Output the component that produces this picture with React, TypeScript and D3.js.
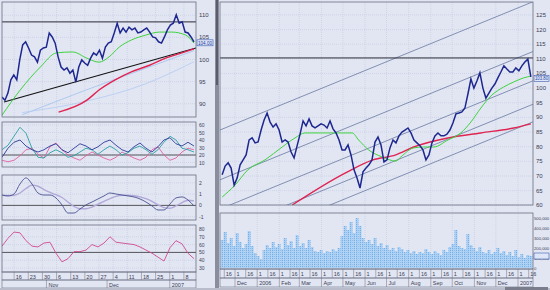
import React from "react";
import * as d3 from "d3";

// ---------------- data ----------------
// Left (daily, Oct 2006 - Jan 2007)
const leftPrice = [91.5, 90.8, 92.4, 95.4, 96.5, 95.4, 99.9, 103.3, 104.0, 102.6, 101.0, 100.6, 99.4, 102.1, 102.6, 102.8, 106.0, 105.1, 103.7, 100.6, 98.3, 97.6, 98.1, 96.9, 97.6, 94.9, 98.3, 99.9, 99.2, 98.7, 100.3, 101.5, 101.0, 102.1, 100.3, 102.8, 103.7, 104.0, 106.0, 108.2, 106.0, 107.1, 106.2, 107.3, 106.7, 107.1, 106.0, 106.2, 106.7, 107.1, 106.2, 105.1, 104.9, 104.0, 103.7, 105.1, 106.7, 107.8, 108.2, 110.1, 108.2, 108.5, 106.2, 106.0, 105.1, 104.0];
const leftStartDate = "2006-10-10";
const leftEndDate = "2007-01-13";
const leftMAshortDates = ["2006-10-10", "2006-10-19", "2006-10-29", "2006-11-06", "2006-11-14", "2006-11-21", "2006-11-27", "2006-12-02", "2006-12-07", "2006-12-13", "2006-12-20", "2006-12-27", "2007-01-02", "2007-01-09", "2007-01-13"];
const leftMAshort = [87.4, 93.1, 98.3, 101.5, 101.7, 100.3, 99.4, 100.6, 102.8, 104.4, 105.5, 106.2, 106.2, 105.5, 103.7];
const leftMAlongDates = ["2006-11-07", "2006-11-21", "2006-11-27", "2006-12-05", "2006-12-13", "2006-12-22", "2006-12-30", "2007-01-07", "2007-01-13"];
const leftMAlong = [88.1, 90.8, 93.1, 95.4, 97.2, 98.7, 100.3, 101.5, 102.4];
const leftFaintDates = ["2006-10-20", "2006-11-20", "2006-12-20", "2007-01-13"];
const leftFaintA = [87.5, 93.0, 98.0, 102.0];
const leftFaintB = [88.0, 90.5, 94.5, 99.5];
const leftTrendDates = ["2006-10-11", "2007-01-14"];
const leftTrend = [90.4, 102.6];
const leftResistance = 108.5;
const leftPriceTicks = [90, 95, 100, 105, 110];

const dmiTeal = [27, 33, 45, 57, 49, 29, 17, 16, 23, 27, 23, 17, 19, 24, 29, 27, 21, 27, 32, 27, 20, 23, 29, 32, 27, 21, 27, 37, 45, 40, 29, 27, 24];
const dmiBlue = [17, 29, 37, 40, 32, 27, 24, 27, 32, 35, 27, 23, 29, 35, 32, 27, 31, 37, 40, 33, 27, 24, 31, 36, 29, 24, 31, 40, 43, 35, 32, 37, 32];
const dmiPink = [13, 11, 13, 19, 27, 29, 21, 16, 31, 36, 27, 20, 16, 13, 19, 24, 20, 16, 13, 17, 24, 20, 16, 13, 17, 27, 31, 20, 13, 16, 24, 29, 27];
const dmiTicks = [10, 20, 30, 40, 50, 60];
const dmiLevel = 20;

const macdLine = [0.92, 0.84, 1.01, 1.9, 2.44, 1.9, 1.1, 0.92, 0.92, 0.66, 0.04, -0.68, -0.68, -0.32, 0.04, 0.3, 0.57, 0.84, 1.1, 1.01, 0.92, 0.84, 0.75, 0.57, 0.3, -0.05, -0.41, -0.41, 0.12, 0.66, 0.75, 0.48, -0.05];
const macdSignal = [0.9, 0.88, 0.9, 1.1, 1.5, 1.8, 1.7, 1.4, 1.15, 0.95, 0.7, 0.3, -0.1, -0.3, -0.3, -0.15, 0.1, 0.35, 0.6, 0.8, 0.9, 0.9, 0.85, 0.75, 0.6, 0.35, 0.05, -0.2, -0.25, -0.05, 0.25, 0.45, 0.4];
const macdTicks = [-1, 0, 1, 2];

const rsiLine = [58, 68, 76, 75, 65, 58, 57, 62, 63, 49, 38, 42, 51, 51, 53, 60, 57, 62, 70, 63, 62, 61, 60, 57, 53, 49, 44, 39, 56, 65, 61, 49, 42];
const rsiTicks = [30, 40, 50, 60, 70, 80];
const rsiLevel = 50;

// Right (Nov 2005 - Jan 2007)
const rightPrice = [70.4, 73.4, 74.5, 72.7, 66.9, 69.3, 73.8, 75.5, 77.2, 82.3, 83.0, 81.3, 81.6, 85.7, 89.1, 91.5, 88.4, 86.7, 87.8, 85.7, 81.6, 82.3, 81.6, 78.2, 76.2, 80.3, 84.3, 88.8, 87.1, 89.5, 87.1, 86.4, 87.1, 87.8, 87.4, 86.4, 88.8, 86.1, 84.7, 82.3, 78.9, 78.9, 80.6, 77.2, 72.1, 69.3, 65.9, 71.4, 72.7, 73.8, 75.5, 81.6, 83.3, 80.6, 74.8, 75.5, 79.6, 82.3, 81.3, 83.7, 85.0, 85.7, 86.4, 84.7, 82.3, 81.3, 80.3, 78.9, 75.5, 77.2, 81.3, 83.7, 84.7, 83.7, 83.7, 84.3, 85.7, 88.1, 91.2, 91.5, 91.9, 93.2, 98.0, 103.1, 100.0, 102.4, 105.2, 100.0, 96.6, 98.3, 100.0, 101.4, 103.5, 105.5, 107.6, 106.5, 105.5, 105.5, 106.9, 105.9, 107.6, 108.9, 109.9, 103.8];
const rightVolume = [280, 360, 250, 300, 220, 350, 260, 200, 240, 370, 220, 150, 120, 90, 180, 230, 200, 260, 210, 240, 190, 300, 230, 270, 200, 330, 220, 250, 200, 280, 210, 170, 160, 180, 150, 170, 160, 190, 170, 200, 320, 420, 380, 460, 350, 500, 420, 300, 260, 280, 240, 300, 220, 250, 200, 230, 180, 200, 170, 210, 190, 160, 180, 150, 170, 140, 160, 150, 190, 160, 140, 170, 150, 130, 180, 160, 210, 240, 380, 220, 200, 190, 340, 230, 200, 170, 210, 160, 150, 180, 140, 160, 200, 150, 170, 130, 160, 120, 180, 110, 140, 100, 130, 120];
const rightStartDate = "2005-11-13";
const rightEndDate = "2007-01-19";
const rightMA50Dates = ["2005-11-13", "2005-12-01", "2005-12-19", "2006-01-12", "2006-02-05", "2006-02-23", "2006-03-09", "2006-04-06", "2006-04-25", "2006-05-14", "2006-05-23", "2006-06-06", "2006-06-25", "2006-07-14", "2006-07-21", "2006-08-08", "2006-08-22", "2006-09-05", "2006-09-25", "2006-10-13", "2006-10-27", "2006-11-10", "2006-11-24", "2006-12-12", "2006-12-26", "2007-01-09", "2007-01-19"];
const rightMA50 = [62.8, 66.9, 72.1, 75.5, 79.9, 83.0, 84.7, 84.7, 84.7, 84.7, 82.3, 78.9, 76.5, 75.1, 76.5, 79.6, 79.9, 79.9, 82.3, 84.7, 88.4, 93.2, 97.3, 100.4, 102.1, 103.5, 104.1];
const rightMA200Dates = ["2006-02-19", "2006-05-04", "2006-06-12", "2006-07-14", "2006-08-08", "2006-09-25", "2006-11-10", "2006-12-26", "2007-01-19"];
const rightMA200 = [60.1, 71.0, 75.5, 77.2, 79.9, 83.0, 84.7, 86.4, 87.8];
const rightResistance = 110.3;
const channelDates = ["2005-11-10", "2007-01-22"];
const channelTop = [85.7, 129.5];
const channelOffsets = [0, -17, -27, -35, -41];
const rightPriceTicks = [60, 65, 70, 75, 80, 85, 90, 95, 100, 105, 110, 115, 120, 125];
const volumeTicks = [0, 100, 200, 300, 400, 500];

// ---------------- component ----------------
const FONT = "'Liberation Sans', Arial, sans-serif";
const parse = d3.timeParse("%Y-%m-%d");
const evenDates = (n: number, a: Date, b: Date) =>
  d3.range(n).map((i) => new Date(+a + (i * (+b - +a)) / (n - 1)));

type Pt = [Date, number];

export default function App() {
  const lx = d3.scaleTime().domain([parse("2006-10-10")!, parse("2007-01-14")!]).range([2, 196]);
  const lyP = d3.scaleLinear().domain([87, 113]).range([117, 2]);
  const lyD = d3.scaleLinear().domain([4, 64]).range([167, 122]);
  const lyM = d3.scaleLinear().domain([-1.3, 2.7]).range([220, 175]);
  const lyR = d3.scaleLinear().domain([25, 85]).range([272, 225]);

  const ls = parse(leftStartDate)!, le = parse(leftEndDate)!;
  const lDates = evenDates(leftPrice.length, ls, le);
  const iDates = evenDates(dmiTeal.length, ls, le);

  const rx = d3.scaleTime().domain([parse("2005-11-10")!, parse("2007-01-22")!]).range([220, 533]);
  const ryP = d3.scaleLinear().domain([60.1, 129.4]).range([205, 2]);
  const ryV = d3.scaleLinear().domain([0, 550]).range([268, 213]);
  const rs = parse(rightStartDate)!, re = parse(rightEndDate)!;
  const rDates = evenDates(rightPrice.length, rs, re);
  const vDates = evenDates(rightVolume.length, rs, re);

  const line = (xs: any, ys: any, curve: any = d3.curveLinear) =>
    d3.line<Pt>().x((d) => xs(d[0])).y((d) => ys(d[1])).curve(curve);
  const zipD = (ds: Date[], vs: number[]): Pt[] => vs.map((v, i) => [ds[i], v]);
  const zipS = (ds: string[], vs: number[]): Pt[] => vs.map((v, i) => [parse(ds[i])!, v]);

  const lP = line(lx, lyP);
  const lPs = line(lx, lyP, d3.curveMonotoneX);
  const rP = line(rx, ryP);
  const rPs = line(rx, ryP, d3.curveMonotoneX);

  const leftMondays = d3.timeMonday.range(lx.domain()[0], lx.domain()[1]);
  const leftMonths = d3.timeMonth.range(lx.domain()[0], lx.domain()[1]).filter((d) => d > lx.domain()[0]);
  const rightDays = d3.timeDay
    .range(rx.domain()[0], rx.domain()[1])
    .filter((d) => d.getDate() === 1 || d.getDate() === 16);
  const rightMonths = d3.timeMonth.range(rx.domain()[0], rx.domain()[1]).filter((d) => d > rx.domain()[0]);
  const monthLabel = (d: Date) => (d.getMonth() === 0 ? d3.timeFormat("%Y")(d) : d3.timeFormat("%b")(d));

  const gridC = "#c3c9df";
  const borderC = "#6a6e80";
  const txtC = "#3a3d55";
  const fs = 6;

  const panel = (x0: number, x1: number, y0: number, y1: number, key: string) => (
    <rect key={key} x={x0} y={y0} width={x1 - x0} height={y1 - y0} fill="none" stroke={borderC} strokeWidth={0.8} />
  );

  const vStep = rx(vDates[1]) - rx(vDates[0]);
  const lLast = leftPrice[leftPrice.length - 1];
  const rLast = rightPrice[rightPrice.length - 1];
  const vLast = rightVolume[rightVolume.length - 1];

  return (
    <div style={{ position: "fixed", left: 0, top: 0 }}>
      <svg width={550} height={290} style={{ display: "block", fontFamily: FONT }}>
        <defs>
          <clipPath id="cLP"><rect x={2} y={2} width={194} height={115} /></clipPath>
          <clipPath id="cLD"><rect x={2} y={122} width={194} height={45} /></clipPath>
          <clipPath id="cLM"><rect x={2} y={175} width={194} height={45} /></clipPath>
          <clipPath id="cLR"><rect x={2} y={225} width={194} height={47} /></clipPath>
          <clipPath id="cRP"><rect x={220} y={2} width={313} height={203} /></clipPath>
          <clipPath id="cRV"><rect x={220} y={213} width={313} height={55} /></clipPath>
          <pattern id="volPat" width={2} height={2} patternUnits="userSpaceOnUse">
            <rect width={2} height={2} fill="#a9d0f4" />
            <rect width={1} height={1} fill="#76aee6" />
          </pattern>
        </defs>
        <rect x={0} y={0} width={550} height={290} fill="#e2e6f3" />

        {/* ---------- LEFT GRID ---------- */}
        <g stroke={gridC} strokeWidth={0.6} strokeDasharray="1,1">
          {leftMondays.map((d, i) => (
            <line key={"lg" + i} x1={lx(d)} x2={lx(d)} y1={2} y2={272} />
          ))}
          {leftPriceTicks.map((t) => (
            <line key={"lh" + t} x1={2} x2={196} y1={lyP(t)} y2={lyP(t)} />
          ))}
          {dmiTicks.map((t) => (
            <line key={"dh" + t} x1={2} x2={196} y1={lyD(t)} y2={lyD(t)} />
          ))}
          {macdTicks.map((t) => (
            <line key={"mh" + t} x1={2} x2={196} y1={lyM(t)} y2={lyM(t)} />
          ))}
          {rsiTicks.map((t) => (
            <line key={"rh" + t} x1={2} x2={196} y1={lyR(t)} y2={lyR(t)} />
          ))}
        </g>

        {/* ---------- LEFT PRICE ---------- */}
        <g clipPath="url(#cLP)" fill="none">
          <path d={lPs(zipS(leftFaintDates, leftFaintA))!} stroke="#a8c4ec" strokeWidth={0.9} />
          <path d={lPs(zipS(leftFaintDates, leftFaintB))!} stroke="#b8cdf0" strokeWidth={0.9} />
          <line x1={2} x2={196} y1={lyP(leftResistance)} y2={lyP(leftResistance)} stroke="#2a2a35" strokeWidth={1} />
          <path d={lP(zipS(leftTrendDates, leftTrend))!} stroke="#111" strokeWidth={1.2} />
          <path d={lPs(zipS(leftMAlongDates, leftMAlong))!} stroke="#e02452" strokeWidth={1.4} />
          <path d={lPs(zipS(leftMAshortDates, leftMAshort))!} stroke="#3ed23e" strokeWidth={1} />
          <path d={lP(zipD(lDates, leftPrice))!} stroke="#1d2790" strokeWidth={1.5} />
        </g>
        {panel(2, 196, 2, 117, "p1")}
        {leftPriceTicks.map((t) => (
          <text key={"lt" + t} x={199} y={lyP(t) + 2} fontSize={fs} fill={txtC}>{t}</text>
        ))}
        <rect x={197} y={lyP(lLast) - 2} width={16} height={6} fill="#dfe6f7" stroke="#3c5cb0" strokeWidth={0.6} />
        <text x={198} y={lyP(lLast) + 2.8} fontSize={5} textLength={14} lengthAdjust="spacingAndGlyphs" fill="#2040a0">{lLast.toFixed(2)}</text>

        {/* ---------- LEFT DMI ---------- */}
        <g clipPath="url(#cLD)" fill="none">
          <line x1={2} x2={196} y1={lyD(dmiLevel)} y2={lyD(dmiLevel)} stroke="#333" strokeWidth={0.8} />
          <path d={line(lx, lyD)(zipD(iDates, dmiPink))!} stroke="#e060a0" strokeWidth={0.9} />
          <path d={line(lx, lyD)(zipD(iDates, dmiTeal))!} stroke="#2aa0a0" strokeWidth={0.9} />
          <path d={line(lx, lyD)(zipD(iDates, dmiBlue))!} stroke="#2a3a9a" strokeWidth={0.9} />
        </g>
        {panel(2, 196, 122, 167, "p2")}
        {dmiTicks.map((t) => (
          <text key={"dt" + t} x={199} y={lyD(t) + 2} fontSize={5} fill={txtC}>{t}</text>
        ))}

        {/* ---------- LEFT MACD ---------- */}
        <g clipPath="url(#cLM)" fill="none">
          <line x1={2} x2={196} y1={lyM(0)} y2={lyM(0)} stroke="#333" strokeWidth={0.8} />
          <path d={line(lx, lyM, d3.curveMonotoneX)(zipD(iDates, macdSignal))!} stroke="#b0a8d8" strokeWidth={1.4} />
          <path d={line(lx, lyM, d3.curveMonotoneX)(zipD(iDates, macdLine))!} stroke="#4a5090" strokeWidth={0.9} />
        </g>
        {panel(2, 196, 175, 220, "p3")}
        {macdTicks.map((t) => (
          <text key={"mt" + t} x={199} y={lyM(t) + 2} fontSize={5} fill={txtC}>{t}</text>
        ))}

        {/* ---------- LEFT RSI ---------- */}
        <g clipPath="url(#cLR)" fill="none">
          <line x1={2} x2={196} y1={lyR(rsiLevel)} y2={lyR(rsiLevel)} stroke="#333" strokeWidth={0.8} />
          <path d={line(lx, lyR)(zipD(iDates, rsiLine))!} stroke="#d04890" strokeWidth={0.9} />
        </g>
        {panel(2, 196, 225, 272, "p4")}
        {rsiTicks.map((t) => (
          <text key={"rt" + t} x={199} y={lyR(t) + 2} fontSize={5} fill={txtC}>{t}</text>
        ))}

        {/* ---------- LEFT DATE AXIS ---------- */}
        <rect x={2} y={272} width={194} height={8} fill="none" stroke={borderC} strokeWidth={0.6} />
        <rect x={2} y={280} width={194} height={8} fill="none" stroke={borderC} strokeWidth={0.6} />
        {leftMondays.map((d, i) => (
          <g key={"lm" + i}>
            <line x1={lx(d)} x2={lx(d)} y1={272} y2={280} stroke={borderC} strokeWidth={0.5} />
            <text x={lx(d) + 1.5} y={278.5} fontSize={5.5} fill={txtC}>{d.getDate()}</text>
          </g>
        ))}
        {leftMonths.map((d, i) => (
          <g key={"lmo" + i}>
            <line x1={lx(d)} x2={lx(d)} y1={280} y2={288} stroke={borderC} strokeWidth={0.5} />
            <text x={lx(d) + 2} y={286.5} fontSize={5.5} fill={txtC}>{monthLabel(d)}</text>
          </g>
        ))}

        {/* ---------- SEPARATOR ---------- */}
        <rect x={215} y={0} width={4} height={290} fill="#8a8e9c" />
        <rect x={216} y={0} width={2} height={85} fill="#5a5e6c" />

        {/* ---------- RIGHT GRID ---------- */}
        <g stroke={gridC} strokeWidth={0.6} strokeDasharray="1,1">
          {rightMonths.map((d, i) => (
            <line key={"rg" + i} x1={rx(d)} x2={rx(d)} y1={2} y2={268} />
          ))}
          {rightPriceTicks.map((t) => (
            <line key={"rh" + t} x1={220} x2={533} y1={ryP(t)} y2={ryP(t)} />
          ))}
        </g>

        {/* ---------- RIGHT PRICE ---------- */}
        <g clipPath="url(#cRP)" fill="none">
          {channelOffsets.map((o, i) => (
            <path key={"ch" + i} d={rP(zipS(channelDates, channelTop.map((v) => v + o)))!} stroke="#6878a0" strokeWidth={0.8} />
          ))}
          <line x1={220} x2={533} y1={ryP(rightResistance)} y2={ryP(rightResistance)} stroke="#2a2a35" strokeWidth={1} />
          <path d={rPs(zipS(rightMA200Dates, rightMA200))!} stroke="#e02452" strokeWidth={1.4} />
          <path d={rPs(zipS(rightMA50Dates, rightMA50))!} stroke="#3ed23e" strokeWidth={1} />
          <path d={rP(zipD(rDates, rightPrice))!} stroke="#1d2790" strokeWidth={1.5} />
        </g>
        {panel(220, 533, 2, 205, "rp")}
        {rightPriceTicks.map((t) => (
          <text key={"rpt" + t} x={536} y={ryP(t) + 2} fontSize={fs} fill={txtC}>{t}</text>
        ))}
        <rect x={534} y={ryP(rLast) - 1.5} width={15} height={6} fill="#dfe6f7" stroke="#3c5cb0" strokeWidth={0.6} />
        <text x={535} y={ryP(rLast) + 3.3} fontSize={5} textLength={13} lengthAdjust="spacingAndGlyphs" fill="#2040a0">{rLast.toFixed(2)}</text>

        {/* ---------- RIGHT VOLUME ---------- */}
        <g clipPath="url(#cRV)">
          {rightVolume.map((v, i) => (
            <rect key={"v" + i} x={rx(vDates[i]) - vStep / 2} y={ryV(v)} width={vStep} height={ryV(0) - ryV(v)} fill="url(#volPat)" />
          ))}
        </g>
        {panel(220, 533, 213, 269, "rv")}
        {volumeTicks.map((t) => (
          <text key={"vt" + t} x={534} y={ryV(t) + 1.8} fontSize={4.2} fill={txtC}>
            {t === 0 ? "0" : d3.format(",")(t * 1000)}
          </text>
        ))}
        <rect x={534} y={ryV(vLast) - 3} width={15} height={6} fill="#dfe6f7" stroke="#3c5cb0" strokeWidth={0.6} />

        {/* ---------- RIGHT DATE AXIS ---------- */}
        <rect x={220} y={269} width={313} height={9} fill="none" stroke={borderC} strokeWidth={0.6} />
        <rect x={220} y={278} width={313} height={9} fill="none" stroke={borderC} strokeWidth={0.6} />
        {rightDays.map((d, i) => (
          <g key={"rd" + i}>
            <line x1={rx(d)} x2={rx(d)} y1={269} y2={278} stroke={borderC} strokeWidth={0.5} />
            <text x={rx(d) + 1.5} y={276} fontSize={5.5} fill={txtC}>{d.getDate()}</text>
          </g>
        ))}
        {rightMonths.map((d, i) => (
          <g key={"rmo" + i}>
            <line x1={rx(d)} x2={rx(d)} y1={278} y2={287} stroke={borderC} strokeWidth={0.5} />
            <text x={rx(d) + 2} y={285} fontSize={5.5} fill={txtC}>{monthLabel(d)}</text>
          </g>
        ))}

        <rect x={0} y={288} width={550} height={2} fill="#b8bccb" />
        <rect x={505} y={287} width={43} height={3} fill="#7a7e8c" />
      </svg>
    </div>
  );
}
